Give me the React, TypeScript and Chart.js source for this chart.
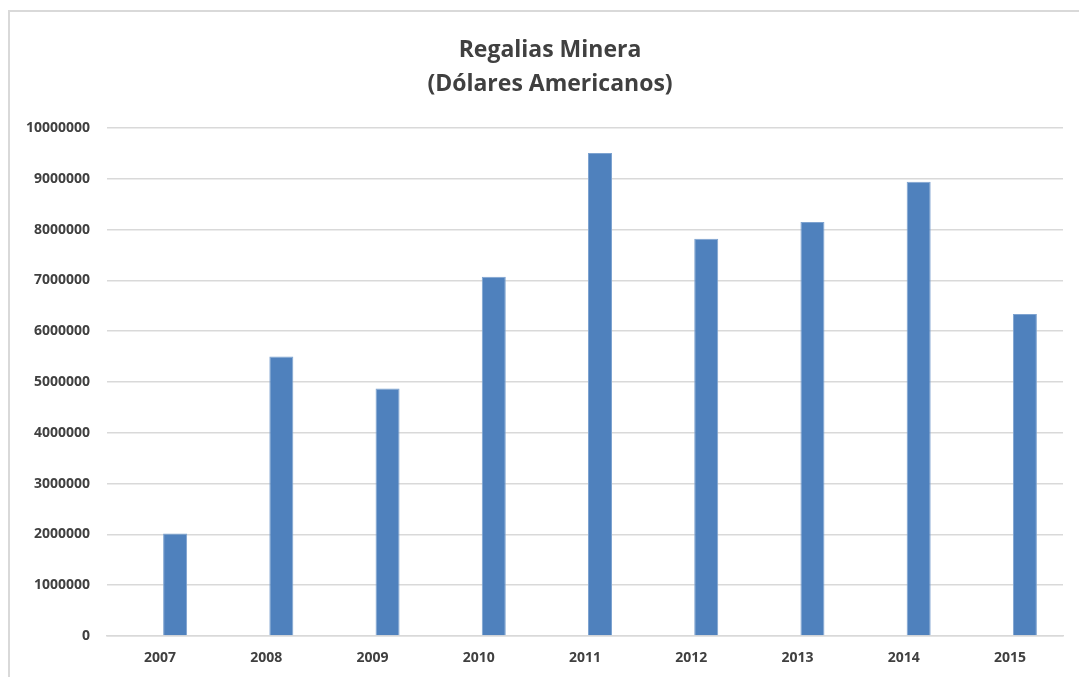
import React, { useEffect, useRef } from "react";
import { Chart, registerables } from "chart.js";

Chart.register(...registerables);

const years: string[] = ["2007", "2008", "2009", "2010", "2011", "2012", "2013", "2014", "2015"];
const regalias: number[] = [2020000, 5500000, 4870000, 7070000, 9510000, 7820000, 8150000, 8940000, 6340000];
const titleLines: string[] = ["Regalias Minera", "(Dólares Americanos)"];
const yMax = 10000000;
const yStep = 1000000;

const FONT = "'Open Sans', 'DejaVu Sans', sans-serif";

const frame = {
  id: "frame",
  beforeDraw(chart: any) {
    const ctx = chart.ctx;
    ctx.save();
    ctx.fillStyle = "#ffffff";
    ctx.fillRect(0, 0, chart.width, chart.height);
    ctx.strokeStyle = "#d9d9d9";
    ctx.lineWidth = 2;
    ctx.beginPath();
    ctx.moveTo(9, chart.height);
    ctx.lineTo(9, 11);
    ctx.lineTo(chart.width, 11);
    ctx.stroke();
    ctx.restore();
  },
  afterDraw(chart: any) {
    const ctx = chart.ctx;
    ctx.save();
    ctx.fillStyle = "#404040";
    ctx.font = `bold 23px ${FONT}`;
    ctx.textAlign = "center";
    ctx.textBaseline = "alphabetic";
    const cx = 550;
    titleLines.forEach((t, i) => ctx.fillText(t, cx, 57 + i * 33.5));
    ctx.restore();
  },
};

export default function App() {
  const ref = useRef<HTMLCanvasElement | null>(null);
  useEffect(() => {
    if (!ref.current) return;
    const chart = new Chart(ref.current, {
      type: "bar",
      data: {
        labels: years,
        datasets: [
          { label: "", data: [], backgroundColor: "#4F81BD" },
          {
            label: "Regalias Minera",
            data: regalias,
            backgroundColor: "#4F81BD",
            borderColor: "#7ea3d0",
            borderWidth: { left: 1, right: 1, top: 1, bottom: 0 },
          } as any,
        ],
      },
      options: {
        animation: false,
        responsive: true,
        maintainAspectRatio: false,
        datasets: { bar: { categoryPercentage: 0.565, barPercentage: 0.8 } },
        layout: { padding: { left: 0, right: 16, top: 128, bottom: 0 } },
        plugins: {
          legend: { display: false },
          tooltip: { enabled: false },
          title: { display: false },
        },
        scales: {
          x: {
            grid: { display: false, drawTicks: false },
            border: { display: true, color: "#d9d9d9", width: 1.5 },
            ticks: { color: "#404040", font: { family: FONT, size: 14, weight: "bold" }, padding: 14 },
            afterFit: (s: any) => {
              s.height = 41;
            },
          },
          y: {
            min: 0,
            max: yMax,
            grid: { color: "#d9d9d9", lineWidth: 1.5, drawTicks: false },
            border: { display: false },
            ticks: {
              stepSize: yStep,
              color: "#404040",
              font: { family: FONT, size: 14, weight: "bold" },
              padding: 17,
              callback: (v: any) => String(v),
            },
            afterFit: (s: any) => {
              s.width = 107;
            },
          },
        },
      },
      plugins: [frame],
    });
    return () => chart.destroy();
  }, []);
  return (
    <div style={{ position: "absolute", left: 0, top: 0, width: 1079, height: 677, background: "#fff" }}>
      <canvas ref={ref} />
    </div>
  );
}
